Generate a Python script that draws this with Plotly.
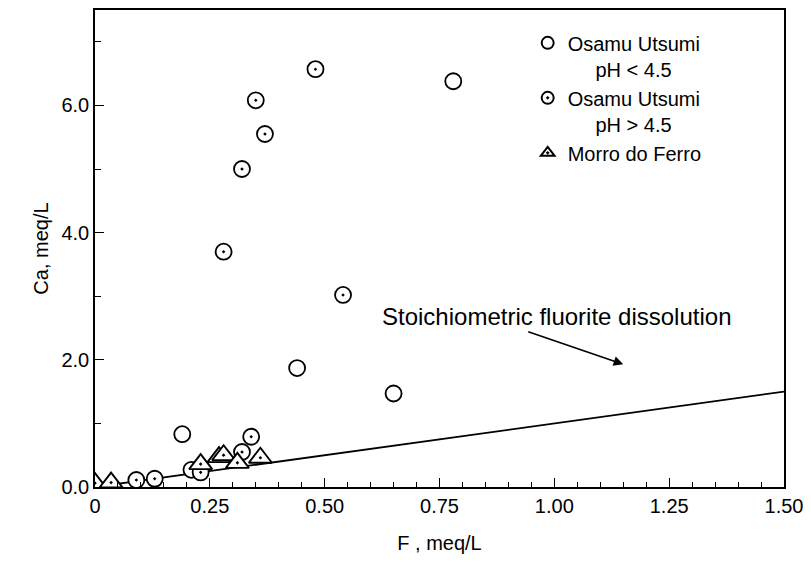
import plotly.graph_objects as go

# Osamu Utsumi, pH < 4.5 (open circles)
F_low = [0.78, 0.44, 0.65, 0.19, 0.21]
Ca_low = [6.38, 1.87, 1.47, 0.83, 0.27]

# Osamu Utsumi, pH > 4.5 (dotted circles)
F_high = [0.48, 0.35, 0.37, 0.32, 0.28, 0.54, 0.34, 0.32, 0.23, 0.09, 0.13]
Ca_high = [6.57, 6.08, 5.55, 5.00, 3.70, 3.02, 0.79, 0.55, 0.23, 0.11, 0.13]

# Morro do Ferro (dotted triangles)
F_mf = [0.0, 0.035, 0.23, 0.27, 0.28, 0.31, 0.36]
Ca_mf = [0.06, 0.07, 0.36, 0.47, 0.50, 0.38, 0.46]

# Stoichiometric fluorite dissolution line
F_line = [0.0, 1.5]
Ca_line = [0.0, 1.5]

x_tickvals = [0, 0.25, 0.5, 0.75, 1.0, 1.25, 1.5]
x_ticktext = ["0", "0.25", "0.50", "0.75", "1.00", "1.25", "1.50"]
y_tickvals = [0, 2, 4, 6]
y_ticktext = ["0.0", "2.0", "4.0", "6.0"]

FONT = "Liberation Sans, Arial, sans-serif"

fig = go.Figure()

fig.add_trace(go.Scatter(
    x=F_line, y=Ca_line, mode="lines",
    line=dict(color="black", width=1.8), showlegend=False, hoverinfo="skip"))

fig.add_trace(go.Scatter(
    x=F_low, y=Ca_low, mode="markers", name="Osamu Utsumi<br>     pH < 4.5",
    marker=dict(symbol="circle", size=16, color="white",
                line=dict(color="black", width=1.8))))

fig.add_trace(go.Scatter(
    x=F_high, y=Ca_high, mode="markers", name="Osamu Utsumi<br>     pH > 4.5",
    marker=dict(symbol="circle-dot", size=16, color="white",
                line=dict(color="black", width=1.8))))

fig.add_trace(go.Scatter(
    x=F_mf, y=Ca_mf, mode="markers", name="Morro do Ferro",
    marker=dict(symbol="triangle-up-dot", size=20, color="white",
                line=dict(color="black", width=1.9))))

fig.add_annotation(
    x=0.62, y=2.68, xref="x", yref="y", text="Stoichiometric fluorite dissolution",
    showarrow=False, xanchor="left", yanchor="middle",
    font=dict(family=FONT, size=24, color="black"))

fig.add_annotation(
    x=1.15, y=1.93, ax=0.94, ay=2.45, xref="x", yref="y", axref="x", ayref="y",
    text="", showarrow=True, arrowhead=2, arrowsize=1.2, arrowwidth=1.6,
    arrowcolor="black")

fig.update_layout(
    width=811, height=571,
    margin=dict(l=95, r=22, t=8, b=84),
    paper_bgcolor="white", plot_bgcolor="white",
    font=dict(family=FONT, size=18, color="black"),
    showlegend=True,
    legend=dict(x=0.628, y=0.972, xanchor="left", yanchor="top",
                bgcolor="rgba(0,0,0,0)", borderwidth=0,
                font=dict(family=FONT, size=20, color="black"),
                itemsizing="constant", valign="top", tracegroupgap=3),
)

fig.update_xaxes(
    range=[0, 1.5], tickvals=x_tickvals, ticktext=x_ticktext,
    showgrid=False, zeroline=False, showline=True, linecolor="black", linewidth=1.5,
    mirror=True, ticks="inside", ticklen=9, tickwidth=1.2, tickcolor="black",
    minor=dict(dtick=0.05, ticks="inside", ticklen=5, tickwidth=1, tickcolor="black"),
    title=dict(text="F , meq/L", font=dict(family=FONT, size=20), standoff=20),
    tickfont=dict(family=FONT, size=20))

fig.update_yaxes(
    range=[0, 7.5], tickvals=y_tickvals, ticktext=y_ticktext,
    showgrid=False, zeroline=False, showline=True, linecolor="black", linewidth=1.5,
    mirror=True, ticks="inside", ticklen=9, tickwidth=1.2, tickcolor="black",
    minor=dict(dtick=1, ticks="inside", ticklen=6, tickwidth=1, tickcolor="black"),
    title=dict(text="Ca, meq/L", font=dict(family=FONT, size=20), standoff=7),
    tickfont=dict(family=FONT, size=20))

fig.write_html("out.html")
